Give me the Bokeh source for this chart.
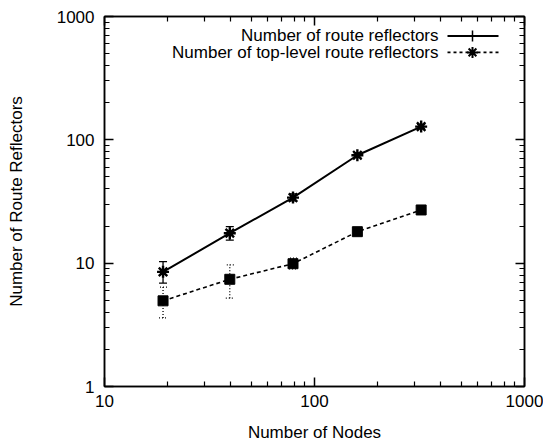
import numpy as np
from bokeh.plotting import figure
from bokeh.models import (LogAxis, FixedTicker, PrintfTickFormatter, Whisker, TeeHead,
                          ColumnDataSource, Label, CustomJSTickFormatter)
from bokeh.embed import file_html
from bokeh.resources import INLINE

# ---- data ----
nodes = [19, 39.5, 79, 160, 322]
rr_mean = [8.5, 17.5, 34, 75, 128]
rr_low = [6.9, 15.4, 32, 72, 124]
rr_high = [10.3, 19.8, 36.5, 78.5, 133]
top_mean = [4.95, 7.4, 9.9, 18, 27]
top_low = [3.6, 5.2, 9.0, 17, 26]
top_high = [6.4, 9.7, 11.0, 19.2, 28.3]

x_ticks = [10, 100, 1000]
y_ticks = [1, 10, 100, 1000]
series_names = ["Number of route reflectors", "Number of top-level route reflectors"]

FONT = "Liberation Sans"
FS = "17px"

p = figure(width=543, height=444, x_axis_type="log", y_axis_type="log",
           x_range=(10, 1000), y_range=(1, 1000),
           output_backend="svg", toolbar_location=None,
           min_border_left=104, min_border_right=19, min_border_top=16, min_border_bottom=57)
p.grid.visible = False
p.outline_line_color = "black"
p.outline_line_width = 1.5
p.background_fill_color = "white"
p.border_fill_color = "white"

def minor_list(lo_exp, hi_exp):
    out = []
    for e in range(lo_exp, hi_exp):
        for m in range(2, 10):
            out.append(m * 10 ** e)
    return out

xt = FixedTicker(ticks=x_ticks, minor_ticks=minor_list(1, 3))
yt = FixedTicker(ticks=y_ticks, minor_ticks=minor_list(0, 3))

def style_axis(ax, labels=True):
    ax.axis_line_color = "black"
    ax.axis_line_width = 1.5
    ax.major_tick_in = 9
    ax.major_tick_out = 0
    ax.minor_tick_in = 5
    ax.minor_tick_out = 0
    ax.major_tick_line_width = 1.5
    ax.minor_tick_line_width = 1.2
    ax.major_tick_line_color = "black"
    ax.minor_tick_line_color = "black"
    if labels:
        ax.formatter = PrintfTickFormatter(format="%d")
        ax.major_label_text_font = FONT
        ax.major_label_text_font_size = FS
        ax.major_label_text_color = "black"
        ax.axis_label_text_font = FONT
        ax.axis_label_text_font_size = FS
        ax.axis_label_text_font_style = "normal"
        ax.axis_label_text_color = "black"
    else:
        ax.formatter = CustomJSTickFormatter(code="return ''")
        ax.major_label_standoff = 0

xa = p.xaxis[0]
ya = p.yaxis[0]
xa.ticker = xt
ya.ticker = yt
style_axis(xa)
style_axis(ya)
xa.axis_label = "Number of Nodes"
ya.axis_label = "Number of Route Reflectors"
xa.major_label_standoff = 8
ya.major_label_standoff = 10
xa.axis_label_standoff = 13
ya.axis_label_standoff = 28

xr = LogAxis(ticker=xt)
yr = LogAxis(ticker=yt)
style_axis(xr, labels=False)
style_axis(yr, labels=False)
p.add_layout(xr, "above")
p.add_layout(yr, "right")

# ---- series 1: solid line, asterisks, solid error bars ----
src1 = ColumnDataSource(dict(x=nodes, y=rr_mean, lo=rr_low, hi=rr_high))
p.add_layout(Whisker(source=src1, base="x", upper="hi", lower="lo",
                     line_color="black", line_width=1.3,
                     upper_head=TeeHead(size=8, line_color="black", line_width=1.3),
                     lower_head=TeeHead(size=8, line_color="black", line_width=1.3)))
p.line("x", "y", source=src1, line_color="black", line_width=2)
p.scatter("x", "y", source=src1, marker="asterisk", size=12, line_color="black", line_width=2.4)

# ---- series 2: dashed line, squares, dotted error bars ----
src2 = ColumnDataSource(dict(x=nodes, y=top_mean, lo=top_low, hi=top_high))
p.add_layout(Whisker(source=src2, base="x", upper="hi", lower="lo",
                     line_color="black", line_width=1.3, line_dash="1 2",
                     upper_head=TeeHead(size=8, line_color="black", line_width=1.3, line_dash="1 2"),
                     lower_head=TeeHead(size=8, line_color="black", line_width=1.3, line_dash="1 2")))
p.line("x", "y", source=src2, line_color="black", line_width=1.6, line_dash="4 3")
p.scatter("x", "y", source=src2, marker="square", size=10, fill_color="black", line_color="black")

# ---- gnuplot-style key (text right-aligned, sample on the right) ----
def fx(frac):
    return 10 ** (1 + 2 * frac)

def fy(frac):
    return 10 ** (3 * frac)

rows_y = [fy(1 - 19.5 / 371), fy(1 - 36 / 371)]
text_x = fx(334 / 420)
s_x0, s_x1, s_xm = fx(343 / 420), fx(394 / 420), fx(368 / 420)

for name, yy in zip(series_names, rows_y):
    p.add_layout(Label(x=text_x, y=yy, text=name, text_align="right", text_baseline="middle",
                       text_font=FONT, text_font_size=FS, text_color="black"))

p.segment(x0=[s_x0], y0=[rows_y[0]], x1=[s_x1], y1=[rows_y[0]], line_color="black", line_width=2)
p.scatter(x=[s_xm], y=[rows_y[0]], marker="cross", size=11, line_color="black", line_width=1.5)
p.segment(x0=[s_x0], y0=[rows_y[1]], x1=[s_x1], y1=[rows_y[1]], line_color="black",
          line_width=1.6, line_dash="3 3")
p.scatter(x=[s_xm], y=[rows_y[1]], marker="asterisk", size=11, line_color="black", line_width=2)

open("out.html", "w").write(file_html(p, INLINE))
